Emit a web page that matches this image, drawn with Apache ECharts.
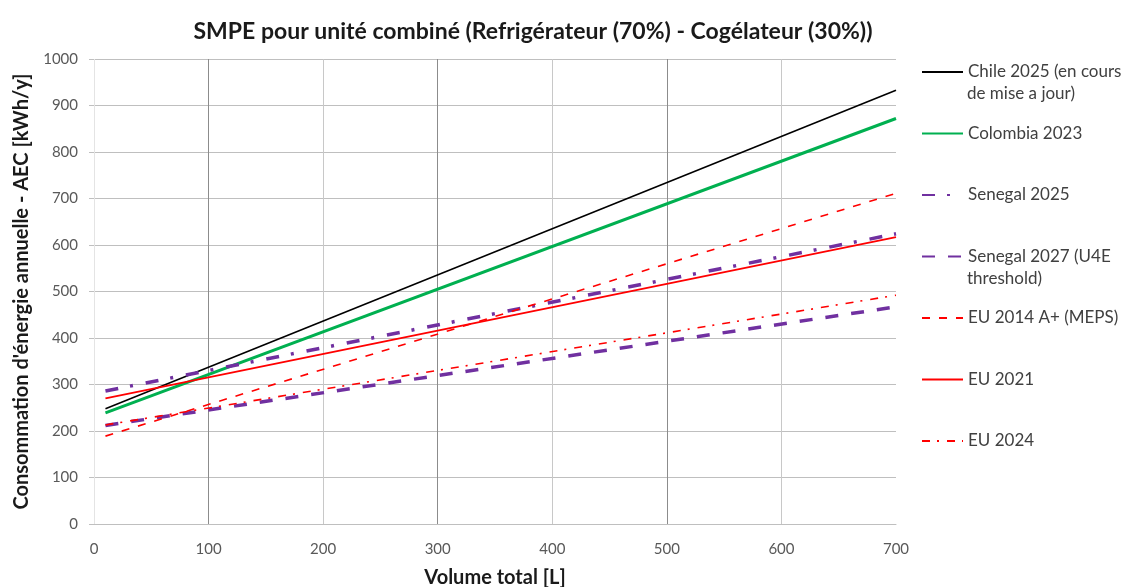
<!DOCTYPE html>
<html>
<head>
<meta charset="utf-8">
<script src="https://cdn.jsdelivr.net/npm/echarts@6/dist/echarts.min.js"></script>
<style>
html,body{margin:0;padding:0;background:#fff;}
#chart{width:1126px;height:587px;}
</style>
</head>
<body>
<div id="chart"></div>
<script>
// ---- data ----
const volumes = [10, 700];
const chile2025 = [248, 933];
const colombia2023 = [239, 872];
const senegal2025 = [286, 624];
const senegal2027 = [212, 467];
const eu2014 = [189, 711];
const eu2021 = [270, 617];
const eu2024 = [213, 492];
const seriesNames = [
  "Chile 2025 (en cours\nde mise a jour)",
  "Colombia 2023",
  "Senegal 2025",
  "Senegal 2027 (U4E\nthreshold)",
  "EU 2014 A+ (MEPS)",
  "EU 2021",
  "EU 2024"
];
const titleText = "SMPE pour unité combiné (Refrigérateur (70%) - Cogélateur (30%))";
const xAxisName = "Volume total [L]";
const yAxisName = "Consommation d'énergie annuelle - AEC [kWh/y]";

const FONT = "Lato";
const pairs = (ys) => volumes.map((v, i) => [v, ys[i]]);

const styles = [
  {color: "#000000", width: 1.6, type: "solid"},
  {color: "#00b050", width: 3, type: "solid"},
  {color: "#7030a0", width: 3.5, type: [13, 12, 3, 13]},
  {color: "#7030a0", width: 3.5, type: [13, 13]},
  {color: "#ff0000", width: 1.6, type: [8, 9]},
  {color: "#ff0000", width: 1.8, type: "solid"},
  {color: "#ff0000", width: 1.6, type: [8, 7, 2, 8]}
];
const dataSets = [chile2025, colombia2023, senegal2025, senegal2027, eu2014, eu2021, eu2024];

const chart = echarts.init(document.getElementById("chart"), null, {renderer: "canvas"});
chart.setOption({
  animation: false,
  backgroundColor: "#ffffff",
  title: {
    text: titleText,
    left: 528, top: 15, textAlign: "center",
    textStyle: {fontFamily: FONT, fontWeight: "bold", fontSize: 23, color: "#1a1a1a"}
  },
  grid: {left: 94, right: 230, top: 59, bottom: 63, containLabel: false, outerBoundsMode: "none"},
  legend: {
    orient: "vertical",
    left: 921, top: 63, padding: 0,
    itemWidth: 41, itemHeight: 18, itemGap: 43.5,
    itemStyle: {opacity: 0},
    formatter: (n) => n.split("\n")[0],
    textStyle: {fontFamily: FONT, fontSize: 17, color: "#404040", lineHeight: 18},
    data: seriesNames
  },
  graphic: [
    {type: "text", left: 967, top: 85, style: {text: "de mise a jour)", fontFamily: FONT, fontSize: 17, fill: "#404040"}},
    {type: "text", left: 967, top: 270, style: {text: "threshold)", fontFamily: FONT, fontSize: 17, fill: "#404040"}}
  ],
  xAxis: {
    type: "value", min: 0, max: 700, interval: 100,
    name: xAxisName, nameLocation: "middle", nameGap: 44,
    nameTextStyle: {fontFamily: FONT, fontWeight: "bold", fontSize: 20, color: "#1a1a1a"},
    axisLine: {show: true, lineStyle: {color: "#bfbfbf", width: 1}},
    axisTick: {show: false},
    axisLabel: {fontFamily: FONT, fontSize: 15, color: "#595959", margin: 18},
    splitLine: {show: true, lineStyle: {width: 1, color: ["#e4e4e4", "#8c8c8c", "#c8c8c8", "#8c8c8c", "#c8c8c8", "#8c8c8c", "#c8c8c8", "rgba(0,0,0,0)"]}}
  },
  yAxis: {
    type: "value", min: 0, max: 1000, interval: 100,
    name: yAxisName, nameLocation: "middle", nameGap: 62, nameRotate: 90,
    nameTextStyle: {fontFamily: FONT, fontWeight: "bold", fontSize: 20, color: "#1a1a1a"},
    axisLine: {show: false},
    axisTick: {show: true, length: 5, lineStyle: {color: "#bfbfbf"}},
    axisLabel: {fontFamily: FONT, fontSize: 15, color: "#595959", margin: 16, formatter: (v) => String(v)},
    splitLine: {show: true, lineStyle: {color: "#bfbfbf", width: 1}}
  },
  series: dataSets.map((d, i) => ({
    name: seriesNames[i],
    type: "line",
    symbol: "none",
    data: pairs(d),
    lineStyle: {color: styles[i].color, width: styles[i].width, type: styles[i].type},
    itemStyle: {color: styles[i].color},
    z: 2 + i
  }))
});
</script>
</body>
</html>
